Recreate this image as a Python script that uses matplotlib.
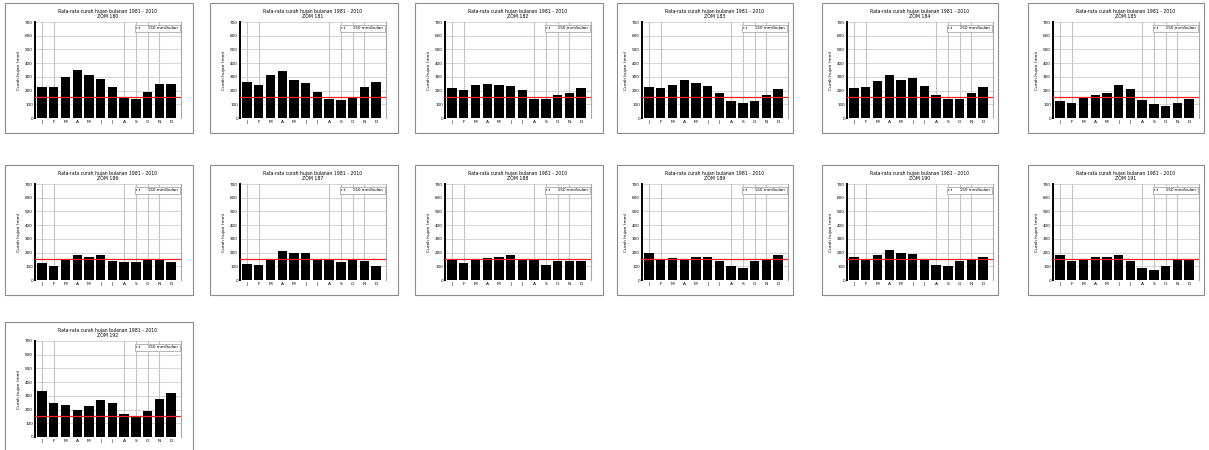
import numpy as np
import matplotlib
matplotlib.use("Agg")
import matplotlib.pyplot as plt
from matplotlib.patches import Rectangle

# month labels
months = ["J", "F", "M", "A", "M", "J", "J", "A", "S", "O", "N", "D"]

# zone names, one per panel
zones = ["ZOM 180", "ZOM 181", "ZOM 182", "ZOM 183", "ZOM 184", "ZOM 185",
         "ZOM 186", "ZOM 187", "ZOM 188", "ZOM 189", "ZOM 190", "ZOM 191",
         "ZOM 192"]

# monthly mean rainfall (mm)
rain_01 = [224, 224, 299, 352, 311, 282, 224, 147, 135, 193, 246, 246]
rain_02 = [263, 244, 311, 343, 275, 256, 193, 140, 133, 155, 229, 263]
rain_03 = [220, 205, 239, 251, 239, 234, 203, 142, 135, 169, 183, 220]
rain_04 = [224, 220, 241, 275, 253, 232, 179, 121, 106, 126, 171, 215]
rain_05 = [220, 224, 270, 311, 280, 295, 232, 171, 135, 142, 183, 224]
rain_06 = [121, 113, 155, 171, 179, 239, 208, 133, 104, 84, 113, 135]
rain_07 = [127, 103, 144, 183, 168, 183, 139, 132, 132, 147, 147, 132]
rain_08 = [115, 108, 149, 209, 195, 195, 152, 144, 132, 147, 137, 99]
rain_09 = [152, 123, 144, 159, 171, 183, 152, 144, 111, 139, 139, 139]
rain_10 = [200, 152, 159, 152, 168, 168, 135, 103, 91, 135, 144, 183]
rain_11 = [168, 152, 185, 216, 200, 188, 152, 111, 103, 137, 156, 168]
rain_12 = [180, 135, 156, 171, 168, 180, 135, 84, 72, 103, 147, 156]
rain_13 = [339, 245, 231, 195, 224, 267, 245, 166, 144, 188, 274, 318]

series = [rain_01, rain_02, rain_03, rain_04, rain_05, rain_06, rain_07,
          rain_08, rain_09, rain_10, rain_11, rain_12, rain_13]

# wet month threshold (mm/bulan)
threshold = 150
y_ticks = [0, 100, 200, 300, 400, 500, 600, 700]

W, H = 1209, 450
fig = plt.figure(figsize=(W / 100, H / 100), dpi=100)

# frame geometry per column (pixels): left edge, width, axes offset
col_left = [5, 210, 415, 617, 822, 1028]
col_width = [188, 188, 188, 176, 176, 176]
col_axoff = [30, 30, 30, 25, 25, 25]
row_top = [3, 165, 322]
box_h = 130
ax_w = 146


def px_rect(left, top, width, height):
    """pixel box (from top-left) -> figure fraction rect"""
    return [left / W, 1 - (top + height) / H, width / W, height / H]


for i, vals in enumerate(series):
    c = i % 6
    bl = col_left[c]
    bw = col_width[c]
    bt = row_top[i // 6]
    al = bl + col_axoff[c]

    # outer frame of each small chart
    fig.patches.append(Rectangle((bl / W, 1 - (bt + box_h) / H), bw / W, box_h / H,
                                 transform=fig.transFigure, fill=False,
                                 edgecolor="#8c8c8c", lw=0.8))

    fig.text((al + ax_w / 2) / W, 1 - (bt + 6) / H,
             "Rata-rata curah hujan bulanan 1981 - 2010\n" + zones[i],
             ha="center", va="top", fontsize=3.3, linespacing=0.9)

    ax = fig.add_axes(px_rect(al, bt + 19, ax_w, 96))
    x = np.arange(len(months))
    ax.set_xlim(-0.6, 11.85)
    ax.set_ylim(0, 700)

    for yv in y_ticks[1:]:
        ax.axhline(yv, color="#d4d4d4", lw=0.7, zorder=0)
    for m in [0, 1, 7, 8, 9, 10]:
        ax.axvline(m, color="#c4c4c4", lw=0.8, zorder=0)

    ax.bar(x, vals, width=0.8, color="black", zorder=2)
    ax.axhline(threshold, color="#ff2020", lw=0.9, zorder=3)

    ax.set_xticks(x)
    ax.set_xticklabels(months, fontsize=3.2)
    ax.set_yticks(y_ticks)
    ax.set_yticklabels([str(v) for v in y_ticks], fontsize=3.0)
    ax.tick_params(length=0, pad=1.5)
    ax.set_ylabel("Curah hujan (mm)", fontsize=3.2, labelpad=3)

    ax.spines["top"].set_visible(False)
    ax.spines["bottom"].set_visible(False)
    ax.spines["left"].set_linewidth(1.4)
    ax.spines["right"].set_color("#a8a8a8")
    ax.spines["right"].set_linewidth(0.8)

    ax.text(0.98, 0.955, "r.t      150 mm/bulan", transform=ax.transAxes,
            ha="right", va="top", fontsize=3.0, zorder=4,
            bbox=dict(boxstyle="square,pad=0.4", fc="white", ec="#9a9a9a", lw=0.5))

fig.savefig("out.png", dpi=100, facecolor="white")
